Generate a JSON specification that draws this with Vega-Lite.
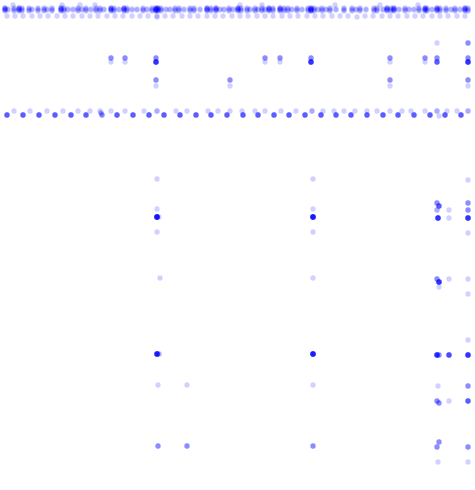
{
  "$schema": "https://vega.github.io/schema/vega-lite/v6.json",
  "autosize": {"type": "fit", "contains": "padding"},
  "width": 475,
  "height": 490,
  "padding": 0,
  "background": "white",
  "config": {"view": {"stroke": null}},
  "data": {"values": [
    {"x":5,"y":9},{"x":5,"y":10},{"x":5,"y":8},{"x":5,"y":11},{"x":5,"y":9},{"x":5,"y":10},{"x":5,"y":8},
    {"x":8,"y":9},{"x":8,"y":10},
    {"x":14,"y":9},{"x":14,"y":10},{"x":14,"y":8},{"x":14,"y":11},
    {"x":19,"y":9},{"x":19,"y":10},{"x":19,"y":8},{"x":19,"y":11},{"x":19,"y":9},{"x":19,"y":10},{"x":19,"y":8},
    {"x":22,"y":9},{"x":22,"y":10},{"x":22,"y":8},{"x":22,"y":11},
    {"x":29,"y":9},{"x":29,"y":10},{"x":29,"y":8},{"x":29,"y":11},
    {"x":32,"y":9},{"x":32,"y":10},
    {"x":38,"y":9},{"x":38,"y":10},{"x":38,"y":8},{"x":38,"y":11},
    {"x":44,"y":9},{"x":44,"y":10},{"x":44,"y":8},{"x":44,"y":11},
    {"x":47,"y":9},{"x":47,"y":10},
    {"x":52,"y":9},{"x":52,"y":10},{"x":52,"y":8},{"x":52,"y":11},
    {"x":61,"y":9},{"x":61,"y":10},{"x":61,"y":8},{"x":61,"y":11},{"x":61,"y":9},{"x":61,"y":10},{"x":61,"y":8},
    {"x":64,"y":9},{"x":64,"y":10},{"x":64,"y":8},{"x":64,"y":11},
    {"x":68,"y":9},{"x":68,"y":10},
    {"x":73,"y":9},{"x":73,"y":10},
    {"x":78,"y":9},{"x":78,"y":10},{"x":78,"y":8},{"x":78,"y":11},
    {"x":82,"y":9},{"x":82,"y":10},
    {"x":86,"y":9},{"x":86,"y":10},{"x":86,"y":8},{"x":86,"y":11},
    {"x":91,"y":9},{"x":91,"y":10},
    {"x":96,"y":9},{"x":96,"y":10},{"x":96,"y":8},{"x":96,"y":11},
    {"x":100,"y":9},{"x":100,"y":10},{"x":100,"y":8},{"x":100,"y":11},
    {"x":104,"y":9},{"x":104,"y":10},
    {"x":111,"y":9},{"x":111,"y":10},{"x":111,"y":8},{"x":111,"y":11},{"x":111,"y":9},{"x":111,"y":10},{"x":111,"y":8},
    {"x":114,"y":9},{"x":114,"y":10},{"x":114,"y":8},{"x":114,"y":11},
    {"x":119,"y":9},{"x":119,"y":10},
    {"x":124,"y":9},{"x":124,"y":10},{"x":124,"y":8},{"x":124,"y":11},{"x":124,"y":9},{"x":124,"y":10},{"x":124,"y":8},
    {"x":127,"y":9},{"x":127,"y":10},{"x":127,"y":8},{"x":127,"y":11},
    {"x":132,"y":9},{"x":132,"y":10},
    {"x":137,"y":9},{"x":137,"y":10},
    {"x":143,"y":9},{"x":143,"y":10},{"x":143,"y":8},{"x":143,"y":11},
    {"x":147,"y":9},{"x":147,"y":10},
    {"x":152,"y":9},{"x":152,"y":10},{"x":152,"y":8},{"x":152,"y":11},
    {"x":156,"y":9},{"x":156,"y":10},{"x":156,"y":8},{"x":156,"y":11},{"x":156,"y":9},{"x":156,"y":10},{"x":156,"y":8},{"x":156,"y":11},{"x":156,"y":9},{"x":156,"y":10},
    {"x":158,"y":9},{"x":158,"y":10},{"x":158,"y":8},{"x":158,"y":11},{"x":158,"y":9},{"x":158,"y":10},{"x":158,"y":8},
    {"x":161,"y":9},{"x":161,"y":10},{"x":161,"y":8},{"x":161,"y":11},
    {"x":166,"y":9},{"x":166,"y":10},
    {"x":170,"y":9},{"x":170,"y":10},
    {"x":175,"y":9},{"x":175,"y":10},{"x":175,"y":8},{"x":175,"y":11},
    {"x":179,"y":9},{"x":179,"y":10},{"x":179,"y":8},{"x":179,"y":11},
    {"x":184,"y":9},{"x":184,"y":10},
    {"x":190,"y":9},{"x":190,"y":10},{"x":190,"y":8},{"x":190,"y":11},
    {"x":194,"y":9},{"x":194,"y":10},{"x":194,"y":8},{"x":194,"y":11},
    {"x":200,"y":9},{"x":200,"y":10},
    {"x":207,"y":9},{"x":207,"y":10},{"x":207,"y":8},{"x":207,"y":11},{"x":207,"y":9},{"x":207,"y":10},{"x":207,"y":8},
    {"x":211,"y":9},{"x":211,"y":10},{"x":211,"y":8},{"x":211,"y":11},
    {"x":216,"y":9},{"x":216,"y":10},{"x":216,"y":8},{"x":216,"y":11},{"x":216,"y":9},{"x":216,"y":10},{"x":216,"y":8},
    {"x":220,"y":9},{"x":220,"y":10},
    {"x":224,"y":9},{"x":224,"y":10},
    {"x":229,"y":9},{"x":229,"y":10},{"x":229,"y":8},{"x":229,"y":11},
    {"x":233,"y":9},{"x":233,"y":10},
    {"x":238,"y":9},{"x":238,"y":10},{"x":238,"y":8},{"x":238,"y":11},{"x":238,"y":9},{"x":238,"y":10},{"x":238,"y":8},
    {"x":241,"y":9},{"x":241,"y":10},{"x":241,"y":8},{"x":241,"y":11},
    {"x":247,"y":9},{"x":247,"y":10},{"x":247,"y":8},{"x":247,"y":11},
    {"x":250,"y":9},{"x":250,"y":10},
    {"x":255,"y":9},{"x":255,"y":10},{"x":255,"y":8},{"x":255,"y":11},
    {"x":258,"y":9},{"x":258,"y":10},
    {"x":262,"y":9},{"x":262,"y":10},{"x":262,"y":8},{"x":262,"y":11},
    {"x":265,"y":9},{"x":265,"y":10},
    {"x":269,"y":9},{"x":269,"y":10},{"x":269,"y":8},{"x":269,"y":11},{"x":269,"y":9},{"x":269,"y":10},{"x":269,"y":8},
    {"x":273,"y":9},{"x":273,"y":10},{"x":273,"y":8},{"x":273,"y":11},
    {"x":280,"y":9},{"x":280,"y":10},{"x":280,"y":8},{"x":280,"y":11},{"x":280,"y":9},{"x":280,"y":10},{"x":280,"y":8},
    {"x":284,"y":9},{"x":284,"y":10},{"x":284,"y":8},{"x":284,"y":11},
    {"x":288,"y":9},{"x":288,"y":10},{"x":288,"y":8},{"x":288,"y":11},
    {"x":292,"y":9},{"x":292,"y":10},
    {"x":297,"y":9},{"x":297,"y":10},{"x":297,"y":8},{"x":297,"y":11},
    {"x":302,"y":9},{"x":302,"y":10},
    {"x":308,"y":9},{"x":308,"y":10},{"x":308,"y":8},{"x":308,"y":11},
    {"x":311,"y":9},{"x":311,"y":10},{"x":311,"y":8},{"x":311,"y":11},{"x":311,"y":9},{"x":311,"y":10},{"x":311,"y":8},{"x":311,"y":11},{"x":311,"y":9},{"x":311,"y":10},
    {"x":314,"y":9},{"x":314,"y":10},{"x":314,"y":8},{"x":314,"y":11},
    {"x":318,"y":9},{"x":318,"y":10},
    {"x":322,"y":9},{"x":322,"y":10},{"x":322,"y":8},{"x":322,"y":11},
    {"x":326,"y":9},{"x":326,"y":10},
    {"x":330,"y":9},{"x":330,"y":10},{"x":330,"y":8},{"x":330,"y":11},
    {"x":336,"y":9},{"x":336,"y":10},
    {"x":344,"y":9},{"x":344,"y":10},{"x":344,"y":8},{"x":344,"y":11},
    {"x":352,"y":9},{"x":352,"y":10},{"x":352,"y":8},{"x":352,"y":11},
    {"x":356,"y":9},{"x":356,"y":10},
    {"x":360,"y":9},{"x":360,"y":10},{"x":360,"y":8},{"x":360,"y":11},
    {"x":366,"y":9},{"x":366,"y":10},
    {"x":374,"y":9},{"x":374,"y":10},{"x":374,"y":8},{"x":374,"y":11},
    {"x":377,"y":9},{"x":377,"y":10},{"x":377,"y":8},{"x":377,"y":11},
    {"x":383,"y":9},{"x":383,"y":10},
    {"x":387,"y":9},{"x":387,"y":10},{"x":387,"y":8},{"x":387,"y":11},{"x":387,"y":9},{"x":387,"y":10},{"x":387,"y":8},
    {"x":391,"y":9},{"x":391,"y":10},{"x":391,"y":8},{"x":391,"y":11},
    {"x":394,"y":9},{"x":394,"y":10},{"x":394,"y":8},{"x":394,"y":11},{"x":394,"y":9},{"x":394,"y":10},{"x":394,"y":8},
    {"x":399,"y":9},{"x":399,"y":10},
    {"x":405,"y":9},{"x":405,"y":10},{"x":405,"y":8},{"x":405,"y":11},
    {"x":409,"y":9},{"x":409,"y":10},
    {"x":414,"y":9},{"x":414,"y":10},
    {"x":419,"y":9},{"x":419,"y":10},{"x":419,"y":8},{"x":419,"y":11},
    {"x":425,"y":9},{"x":425,"y":10},{"x":425,"y":8},{"x":425,"y":11},{"x":425,"y":9},{"x":425,"y":10},{"x":425,"y":8},
    {"x":427,"y":9},{"x":427,"y":10},{"x":427,"y":8},{"x":427,"y":11},
    {"x":432,"y":9},{"x":432,"y":10},
    {"x":437,"y":9},{"x":437,"y":10},{"x":437,"y":8},{"x":437,"y":11},{"x":437,"y":9},{"x":437,"y":10},{"x":437,"y":8},
    {"x":440,"y":9},{"x":440,"y":10},{"x":440,"y":8},{"x":440,"y":11},
    {"x":446,"y":9},{"x":446,"y":10},{"x":446,"y":8},{"x":446,"y":11},
    {"x":451,"y":9},{"x":451,"y":10},
    {"x":455,"y":9},{"x":455,"y":10},{"x":455,"y":8},{"x":455,"y":11},
    {"x":460,"y":9},{"x":460,"y":10},
    {"x":465,"y":9},{"x":465,"y":10},{"x":465,"y":8},{"x":465,"y":11},{"x":465,"y":9},{"x":465,"y":10},{"x":465,"y":8},
    {"x":468,"y":9},{"x":468,"y":10},{"x":468,"y":8},{"x":468,"y":11},

    {"x":13,"y":5},{"x":62,"y":5},{"x":80,"y":5},{"x":95,"y":5},{"x":240,"y":5},{"x":262,"y":5},{"x":335,"y":5},{"x":380,"y":5},{"x":418,"y":5},

    {"x":7,"y":16},{"x":15,"y":16},{"x":23,"y":16},{"x":32,"y":16},{"x":40,"y":16},{"x":48,"y":16},{"x":57,"y":16},{"x":65,"y":16},{"x":73,"y":16},{"x":82,"y":16},
    {"x":90,"y":16},{"x":98,"y":16},{"x":107,"y":16},{"x":115,"y":16},{"x":123,"y":16},{"x":132,"y":16},{"x":140,"y":16},{"x":148,"y":16},{"x":157,"y":16},{"x":157,"y":17},
    {"x":165,"y":16},{"x":173,"y":16},{"x":182,"y":16},{"x":190,"y":16},{"x":198,"y":16},{"x":207,"y":16},{"x":215,"y":16},{"x":223,"y":16},{"x":232,"y":16},{"x":240,"y":16},
    {"x":248,"y":16},{"x":257,"y":16},{"x":265,"y":16},{"x":273,"y":16},{"x":282,"y":16},{"x":290,"y":16},{"x":298,"y":16},{"x":307,"y":16},{"x":315,"y":16},{"x":323,"y":16},
    {"x":332,"y":16},{"x":340,"y":16},{"x":348,"y":16},{"x":357,"y":17},{"x":365,"y":16},{"x":373,"y":16},{"x":382,"y":16},{"x":390,"y":16},{"x":398,"y":16},{"x":407,"y":16},
    {"x":415,"y":16},{"x":423,"y":16},{"x":432,"y":16},{"x":440,"y":16},{"x":448,"y":16},{"x":457,"y":16},{"x":465,"y":16},

    {"x":111,"y":58},{"x":111,"y":58},{"x":111,"y":58},{"x":111,"y":62},{"x":125,"y":58},{"x":125,"y":58},{"x":125,"y":58},{"x":125,"y":62},
    {"x":156,"y":58},{"x":156,"y":58},{"x":156,"y":58},{"x":156,"y":62},{"x":156,"y":62},{"x":156,"y":62},{"x":156,"y":62},{"x":156,"y":62},{"x":156,"y":62},{"x":156,"y":62},{"x":156,"y":62},
    {"x":156,"y":80},{"x":156,"y":80},{"x":156,"y":80},{"x":156,"y":86},{"x":230,"y":80},{"x":230,"y":80},{"x":230,"y":80},{"x":230,"y":86},
    {"x":265,"y":58},{"x":265,"y":58},{"x":265,"y":58},{"x":265,"y":62},{"x":280,"y":58},{"x":280,"y":58},{"x":280,"y":58},{"x":280,"y":62},
    {"x":311,"y":58},{"x":311,"y":58},{"x":311,"y":58},{"x":311,"y":62},{"x":311,"y":62},{"x":311,"y":62},{"x":311,"y":62},{"x":311,"y":62},{"x":311,"y":62},{"x":311,"y":62},{"x":311,"y":62},
    {"x":390,"y":58},{"x":390,"y":58},{"x":390,"y":58},{"x":390,"y":62},{"x":390,"y":80},{"x":390,"y":80},{"x":390,"y":80},{"x":390,"y":86},
    {"x":425,"y":58},{"x":425,"y":58},{"x":425,"y":58},{"x":425,"y":62},
    {"x":437,"y":43},{"x":437,"y":58},{"x":437,"y":58},{"x":437,"y":58},{"x":437,"y":62},{"x":437,"y":62},{"x":437,"y":62},{"x":437,"y":62},{"x":437,"y":62},
    {"x":468,"y":43},{"x":468,"y":43},{"x":468,"y":43},{"x":468,"y":58},{"x":468,"y":58},{"x":468,"y":58},{"x":468,"y":62},{"x":468,"y":62},{"x":468,"y":62},{"x":468,"y":62},{"x":468,"y":62},{"x":468,"y":62},{"x":468,"y":62},{"x":468,"y":62},
    {"x":468,"y":80},{"x":468,"y":80},{"x":468,"y":80},{"x":468,"y":86},

    {"x":7,"y":115},{"x":7,"y":115},{"x":7,"y":115},{"x":7,"y":115},{"x":7,"y":115},
    {"x":23,"y":115},{"x":23,"y":115},{"x":23,"y":115},{"x":23,"y":115},{"x":23,"y":115},
    {"x":39,"y":115},{"x":39,"y":115},{"x":39,"y":115},{"x":39,"y":115},{"x":39,"y":115},
    {"x":55,"y":115},{"x":55,"y":115},{"x":55,"y":115},{"x":55,"y":115},{"x":55,"y":115},
    {"x":71,"y":115},{"x":71,"y":115},{"x":71,"y":115},{"x":71,"y":115},{"x":71,"y":115},
    {"x":86,"y":115},{"x":86,"y":115},{"x":86,"y":115},{"x":86,"y":115},{"x":86,"y":115},
    {"x":102,"y":115},{"x":102,"y":115},{"x":102,"y":115},{"x":101,"y":113},{"x":101,"y":113},
    {"x":117,"y":115},{"x":117,"y":115},{"x":117,"y":115},{"x":117,"y":115},{"x":117,"y":115},
    {"x":133,"y":115},{"x":133,"y":115},{"x":133,"y":115},{"x":133,"y":115},{"x":133,"y":115},
    {"x":149,"y":115},{"x":149,"y":115},{"x":149,"y":115},{"x":149,"y":115},{"x":149,"y":115},
    {"x":164,"y":115},{"x":164,"y":115},{"x":164,"y":115},{"x":164,"y":115},{"x":164,"y":115},
    {"x":180,"y":115},{"x":180,"y":115},{"x":180,"y":115},{"x":180,"y":115},{"x":180,"y":115},
    {"x":196,"y":115},{"x":196,"y":115},{"x":196,"y":115},{"x":196,"y":115},{"x":196,"y":115},
    {"x":211,"y":115},{"x":211,"y":115},{"x":211,"y":115},{"x":211,"y":115},{"x":211,"y":115},
    {"x":227,"y":115},{"x":227,"y":115},{"x":227,"y":115},{"x":227,"y":115},{"x":227,"y":115},
    {"x":243,"y":115},{"x":243,"y":115},{"x":243,"y":115},{"x":243,"y":115},{"x":243,"y":115},
    {"x":258,"y":115},{"x":258,"y":115},{"x":258,"y":115},{"x":258,"y":115},{"x":258,"y":115},
    {"x":274,"y":115},{"x":274,"y":115},{"x":274,"y":115},{"x":274,"y":115},{"x":274,"y":115},
    {"x":289,"y":115},{"x":289,"y":115},{"x":289,"y":115},{"x":289,"y":115},{"x":289,"y":115},
    {"x":305,"y":115},{"x":305,"y":115},{"x":305,"y":115},{"x":305,"y":115},{"x":305,"y":115},
    {"x":321,"y":115},{"x":321,"y":115},{"x":321,"y":115},{"x":321,"y":115},{"x":321,"y":115},
    {"x":336,"y":115},{"x":336,"y":115},{"x":336,"y":115},{"x":336,"y":115},{"x":336,"y":115},
    {"x":351,"y":115},{"x":351,"y":115},{"x":351,"y":115},{"x":351,"y":115},{"x":351,"y":115},
    {"x":367,"y":115},{"x":367,"y":115},{"x":367,"y":115},{"x":367,"y":115},{"x":367,"y":115},
    {"x":383,"y":115},{"x":383,"y":115},{"x":383,"y":115},{"x":383,"y":115},{"x":383,"y":115},
    {"x":398,"y":115},{"x":398,"y":115},{"x":398,"y":115},{"x":398,"y":115},{"x":398,"y":115},
    {"x":414,"y":115},{"x":414,"y":115},{"x":414,"y":115},{"x":414,"y":115},{"x":414,"y":115},
    {"x":430,"y":115},{"x":430,"y":115},{"x":430,"y":115},{"x":430,"y":115},{"x":430,"y":115},
    {"x":445,"y":115},{"x":445,"y":115},{"x":445,"y":115},{"x":445,"y":115},{"x":445,"y":115},
    {"x":461,"y":115},{"x":461,"y":115},{"x":461,"y":115},{"x":461,"y":115},{"x":461,"y":115},
    {"x":14,"y":111},{"x":30,"y":111},{"x":47,"y":111},{"x":63,"y":111},{"x":78,"y":111},{"x":90,"y":111},{"x":100,"y":111},{"x":111,"y":111},{"x":125,"y":111},
    {"x":144,"y":111},{"x":157,"y":111},{"x":157,"y":111},{"x":176,"y":111},{"x":187,"y":111},{"x":208,"y":111},{"x":218,"y":111},{"x":230,"y":111},{"x":242,"y":111},{"x":255,"y":111},
    {"x":265,"y":111},{"x":281,"y":111},{"x":296,"y":111},{"x":312,"y":111},{"x":312,"y":111},{"x":323,"y":111},{"x":334,"y":111},{"x":344,"y":111},{"x":355,"y":111},{"x":367,"y":111},
    {"x":377,"y":111},{"x":390,"y":111},{"x":402,"y":111},{"x":411,"y":111},{"x":425,"y":111},{"x":437,"y":111},{"x":437,"y":111},{"x":439,"y":116},{"x":447,"y":111},{"x":457,"y":111},{"x":468,"y":111},{"x":468,"y":111},

    {"x":157,"y":179},{"x":157,"y":209},
    {"x":157,"y":217},{"x":157,"y":217},{"x":157,"y":217},{"x":157,"y":217},{"x":157,"y":217},{"x":157,"y":217},{"x":157,"y":217},{"x":157,"y":217},{"x":157,"y":217},{"x":157,"y":217},{"x":157,"y":217},{"x":157,"y":217},{"x":159,"y":217},
    {"x":157,"y":232},{"x":160,"y":278},
    {"x":157,"y":354},{"x":157,"y":354},{"x":157,"y":354},{"x":157,"y":354},{"x":157,"y":354},{"x":157,"y":354},{"x":157,"y":354},{"x":157,"y":354},{"x":157,"y":354},{"x":157,"y":354},{"x":159,"y":354},{"x":159,"y":354},
    {"x":158,"y":385},{"x":158,"y":446},{"x":158,"y":446},{"x":158,"y":446},
    {"x":187,"y":385},{"x":187,"y":446},{"x":187,"y":446},{"x":187,"y":446},
    {"x":313,"y":179},{"x":313,"y":209},
    {"x":313,"y":217},{"x":313,"y":217},{"x":313,"y":217},{"x":313,"y":217},{"x":313,"y":217},{"x":313,"y":217},{"x":313,"y":217},{"x":313,"y":217},{"x":313,"y":217},{"x":313,"y":217},{"x":313,"y":217},{"x":313,"y":217},
    {"x":313,"y":232},{"x":313,"y":278},
    {"x":313,"y":354},{"x":313,"y":354},{"x":313,"y":354},{"x":313,"y":354},{"x":313,"y":354},{"x":313,"y":354},{"x":313,"y":354},{"x":313,"y":354},{"x":313,"y":354},{"x":313,"y":354},{"x":313,"y":354},
    {"x":313,"y":385},{"x":313,"y":446},{"x":313,"y":446},{"x":313,"y":446},

    {"x":437,"y":203},{"x":437,"y":203},{"x":437,"y":203},{"x":439,"y":206},{"x":439,"y":206},{"x":439,"y":206},{"x":439,"y":206},{"x":439,"y":206},{"x":437,"y":210},{"x":437,"y":210},
    {"x":438,"y":218},{"x":438,"y":218},{"x":438,"y":218},{"x":438,"y":218},{"x":438,"y":218},{"x":438,"y":218},{"x":438,"y":218},{"x":438,"y":218},
    {"x":449,"y":210},{"x":449,"y":218},
    {"x":437,"y":279},{"x":437,"y":279},{"x":437,"y":279},{"x":439,"y":282},{"x":439,"y":282},{"x":439,"y":282},{"x":439,"y":282},{"x":439,"y":282},{"x":439,"y":282},{"x":439,"y":282},{"x":439,"y":282},{"x":439,"y":287},{"x":449,"y":279},
    {"x":437,"y":355},{"x":437,"y":355},{"x":437,"y":355},{"x":437,"y":355},{"x":437,"y":355},{"x":437,"y":355},{"x":437,"y":355},{"x":437,"y":355},{"x":439,"y":355},{"x":439,"y":355},{"x":439,"y":355},
    {"x":449,"y":355},{"x":449,"y":355},{"x":449,"y":355},{"x":449,"y":355},{"x":449,"y":355},{"x":449,"y":355},
    {"x":438,"y":386},{"x":437,"y":401},{"x":437,"y":401},{"x":437,"y":401},{"x":439,"y":403},{"x":439,"y":403},{"x":439,"y":403},{"x":449,"y":401},
    {"x":439,"y":442},{"x":439,"y":442},{"x":439,"y":442},{"x":437,"y":447},{"x":437,"y":447},{"x":437,"y":447},{"x":438,"y":462},

    {"x":468,"y":180},{"x":468,"y":203},{"x":468,"y":203},{"x":468,"y":203},{"x":468,"y":210},{"x":468,"y":210},{"x":468,"y":210},
    {"x":468,"y":218},{"x":468,"y":218},{"x":468,"y":218},{"x":468,"y":218},{"x":468,"y":218},{"x":468,"y":218},{"x":468,"y":218},{"x":468,"y":218},
    {"x":468,"y":233},{"x":468,"y":279},{"x":468,"y":294},{"x":468,"y":340},
    {"x":468,"y":355},{"x":468,"y":355},{"x":468,"y":355},{"x":468,"y":355},{"x":468,"y":355},{"x":468,"y":355},{"x":468,"y":355},{"x":468,"y":355},
    {"x":468,"y":386},{"x":468,"y":386},{"x":468,"y":386},{"x":468,"y":401},{"x":468,"y":401},{"x":468,"y":401},{"x":468,"y":401},{"x":468,"y":401},
    {"x":468,"y":447},{"x":468,"y":447},{"x":468,"y":447},{"x":468,"y":462}
  ]},
  "mark": {"type": "circle", "size": 28, "color": "#0000ff", "opacity": 0.18, "stroke": null},
  "encoding": {
    "x": {"field": "x", "type": "quantitative", "scale": {"domain": [0, 475], "nice": false, "zero": false}, "axis": null},
    "y": {"field": "y", "type": "quantitative", "scale": {"domain": [0, 490], "nice": false, "zero": false, "reverse": true}, "axis": null}
  }
}
